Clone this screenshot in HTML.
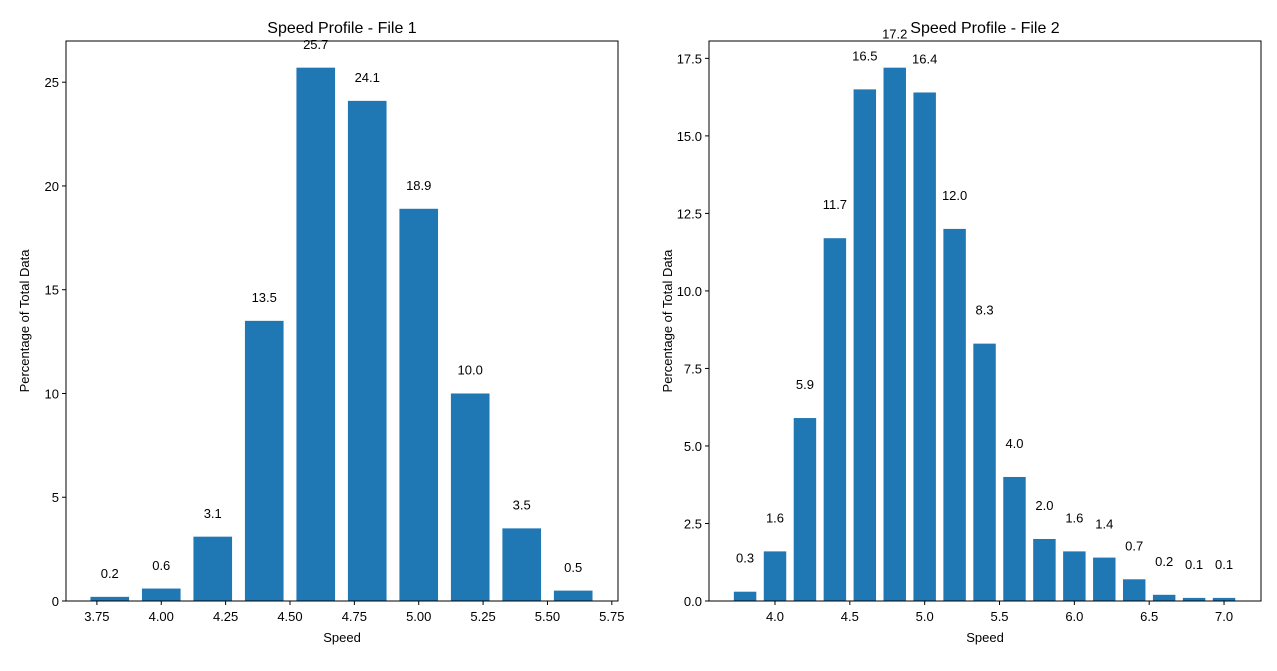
<!DOCTYPE html>
<html><head><meta charset="utf-8"><style>
body{margin:0;background:#fff;}
svg{font-family:"Liberation Sans","DejaVu Sans",sans-serif;}
</style></head><body>
<svg id="chart" width="1277" height="666" viewBox="0 0 1277 666" xmlns="http://www.w3.org/2000/svg"></svg>
<script>
const centers1 = [3.8,4.0,4.2,4.4,4.6,4.8,5.0,5.2,5.4,5.6];
const values1 = [0.2,0.6,3.1,13.5,25.7,24.1,18.9,10.0,3.5,0.5];
const xticks1 = [3.75,4.00,4.25,4.50,4.75,5.00,5.25,5.50,5.75];
const yticks1 = [0,5,10,15,20,25];
const centers2 = [3.8,4.0,4.2,4.4,4.6,4.8,5.0,5.2,5.4,5.6,5.8,6.0,6.2,6.4,6.6,6.8,7.0];
const values2 = [0.3,1.6,5.9,11.7,16.5,17.2,16.4,12.0,8.3,4.0,2.0,1.6,1.4,0.7,0.2,0.1,0.1];
const xticks2 = [4.0,4.5,5.0,5.5,6.0,6.5,7.0];
const yticks2 = [0,2.5,5.0,7.5,10.0,12.5,15.0,17.5];

const svg = document.getElementById('chart');
const NS = 'http://www.w3.org/2000/svg';
function mk(tag, attrs, parent){const e=document.createElementNS(NS,tag);for(const k in attrs)e.setAttribute(k,attrs[k]);parent.appendChild(e);return e;}

function panel(id, L, R, T, B, xmin, xmax, centers, values, xticks, yticks, xdec, ydec, title){
  const ymax = Math.max(...values)*1.05;
  const g = mk('g',{},svg);
  
  
  const X = v => L + (v-xmin)/(xmax-xmin)*(R-L);
  const Y = v => B - v/ymax*(B-T);
  const w = 0.15;
  centers.forEach((c,i)=>{
    const v = values[i];
    const r = mk('rect',{x:X(c-w/2),y:Y(v),width:X(c+w/2)-X(c-w/2),height:B-Y(v),fill:'#1f77b4'},g);
    
    
    const t = mk('text',{x:X(c),y:Y(v+1)+2,'text-anchor':'middle','font-size':13,fill:'#000'},g);
    
    
    t.textContent = v.toFixed(1);
  });
  const frame = mk('rect',{x:L,y:T,width:R-L,height:B-T,fill:'none',stroke:'#000','stroke-width':1},g);
  
  
  xticks.forEach(v=>{
    const x=X(v);
    mk('line',{x1:x,x2:x,y1:B,y2:B+4,stroke:'#000'},g);
    const t=mk('text',{x:x,y:B+20,'text-anchor':'middle','font-size':13},g);
    
    
    t.textContent=v.toFixed(xdec);
  });
  yticks.forEach(v=>{
    const y=Y(v);
    mk('line',{x1:L-4,x2:L,y1:y,y2:y,stroke:'#000'},g);
    const t=mk('text',{x:L-7,y:y+5,'text-anchor':'end','font-size':13},g);
    
    
    t.textContent=v.toFixed(ydec);
  });
  const tt=mk('text',{x:(L+R)/2,y:T-8,'text-anchor':'middle','font-size':16},g);
  
  
  tt.textContent=title;
  const xl=mk('text',{x:(L+R)/2,y:B+41,'text-anchor':'middle','font-size':13},g);
  
  
  xl.textContent='Speed';
  const yx = L-37, yy=(T+B)/2;
  const yl=mk('text',{x:yx,y:yy,'text-anchor':'middle','font-size':13,transform:'rotate(-90 '+yx+' '+yy+')'},g);
  
  
  yl.textContent='Percentage of Total Data';
}
panel('file1',66,618,41,601,3.630,5.774,centers1,values1,xticks1,yticks1,2,0,'Speed Profile - File 1');
panel('file2',709,1261,41,601,3.559,7.247,centers2,values2,xticks2,yticks2,1,1,'Speed Profile - File 2');
</script>
</body></html>
